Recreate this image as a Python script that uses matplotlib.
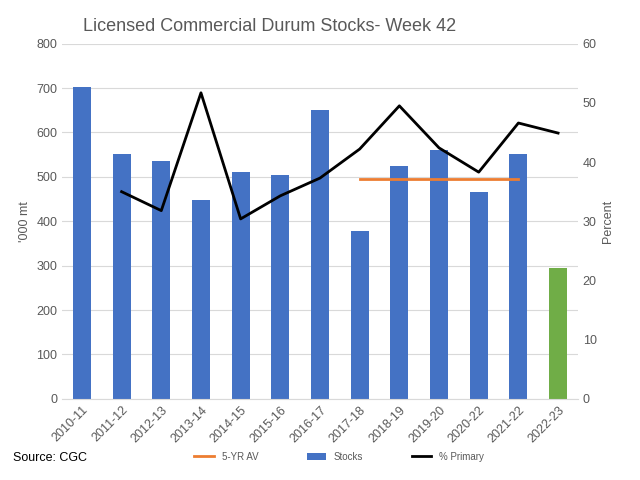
import matplotlib
matplotlib.use("Agg")
import matplotlib.pyplot as plt

years = ["2010-11","2011-12","2012-13","2013-14","2014-15","2015-16","2016-17","2017-18","2018-19","2019-20","2020-22","2021-22","2022-23"]
stocks = [703, 551, 535, 449, 512, 505, 651, 377, 525, 560, 467, 551, 295]
avg5_x = ["2017-18","2018-19","2019-20","2020-22","2021-22"]
avg5 = [495, 495, 495, 495, 495]
pct_x = years[1:]
pct_primary = [35.0, 31.8, 51.7, 30.4, 34.3, 37.3, 42.2, 49.5, 42.4, 38.3, 46.6, 44.9]

blue = "#4472C4"; green = "#70AD47"; orange = "#ED7D31"; gray = "#595959"
plt.rcParams['font.family'] = ['Liberation Sans', 'DejaVu Sans']
fig = plt.figure(figsize=(6.4, 4.8), dpi=100)
ax = fig.add_axes([0.097, 0.169, 0.806, 0.74])
x = list(range(len(years)))
colors = [blue]*(len(years)-1) + [green]
ax.bar(x, stocks, width=0.45, color=colors, zorder=2)
ax.bar([0], [0], color=blue, label="Stocks")
idx = {y: i for i, y in enumerate(years)}
ax.plot([idx[y] for y in avg5_x], avg5, color=orange, lw=2, zorder=3, label="5-YR AV")
ax.set_ylim(0, 800); ax.set_xlim(-0.5, len(years)-0.5)
ax.set_yticks(range(0, 801, 100))
ax.grid(axis='y', color='#D9D9D9', lw=0.8, zorder=0)
ax.set_xticks(x); ax.set_xticklabels(years, rotation=45, ha='right', rotation_mode='anchor', fontsize=9, color=gray)
ax.tick_params(axis='y', labelsize=9, colors=gray, length=0)
ax.tick_params(axis='x', length=0)
ax.set_ylabel("'000 mt", color=gray, fontsize=9)
for s in ax.spines.values(): s.set_visible(False)
ax.spines['bottom'].set_visible(True); ax.spines['bottom'].set_color('#D9D9D9')
ax2 = ax.twinx()
ax2.plot([idx[y] for y in pct_x], pct_primary, color='black', lw=2, label="% Primary")
ax2.set_ylim(0, 60); ax2.set_yticks(range(0, 61, 10))
ax2.tick_params(axis='y', labelsize=9, colors=gray, length=0)
ax2.set_ylabel("Percent", color=gray, fontsize=9)
for s in ax2.spines.values(): s.set_visible(False)
h1, l1 = ax.get_legend_handles_labels(); h2, l2 = ax2.get_legend_handles_labels()
fig.legend(h1+h2, l1+l2, loc='lower center', bbox_to_anchor=(0.53, 0.02), ncol=3, frameon=False, fontsize=7, labelcolor=gray, columnspacing=5, handlelength=2)
fig.text(0.13, 0.935, "Licensed Commercial Durum Stocks- Week 42", fontsize=13, color=gray)
fig.text(0.02, 0.04, "Source: CGC", fontsize=9, color='black')
fig.savefig("out.png", dpi=100)
